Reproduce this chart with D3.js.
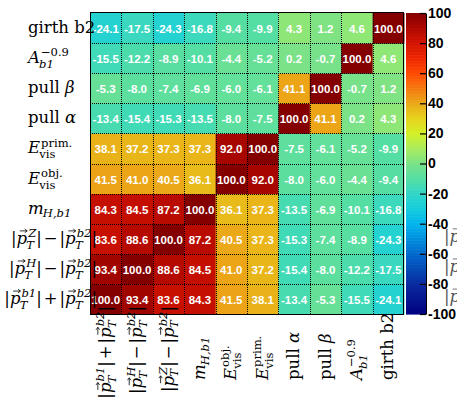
<!DOCTYPE html>
<html><head><meta charset="utf-8">
<script src="https://cdn.jsdelivr.net/npm/d3@7"></script>
<style>
html,body{margin:0;padding:0;background:#fff;}
svg{display:block;}
</style></head><body>
<svg id="chart" width="457" height="398"></svg>
<script>
// ---- label building blocks (math-style tokens) ----
const bar = {t: "|"};
const plus = {t: "+", op: true};
const minus = {t: "\u2212", op: true};
const pT = sup => ({t: "p", i: true, vec: true, sub: {t: "T", i: true}, sup: {t: sup, i: true}});

// Variables, in matrix order: columns left to right, rows bottom to top
const varLabels = [
  [bar, pT("b1"), bar, plus, bar, pT("b2"), bar],
  [bar, pT("H"), bar, minus, bar, pT("b2"), bar],
  [bar, pT("Z"), bar, minus, bar, pT("b2"), bar],
  [{t: "m", i: true, sub: {t: "H,b1", i: true}}],
  [{t: "E", i: true, sup: {t: "obj."}, sub: {t: "vis"}}],
  [{t: "E", i: true, sup: {t: "prim."}, sub: {t: "vis"}}],
  [{t: "pull "}, {t: "\u03b1", i: true}],
  [{t: "pull "}, {t: "\u03b2", i: true}],
  [{t: "A", i: true, sup: {t: "\u22120.9"}, sub: {t: "b1", i: true}}],
  [{t: "girth b2"}]
];

// Correlation coefficients in percent, one row per variable (same order)
const corrPtSum   = [100.0, 93.4, 83.6, 84.3, 41.5, 38.1, -13.4, -5.3, -15.5, -24.1];
const corrPtH     = [93.4, 100.0, 88.6, 84.5, 41.0, 37.2, -15.4, -8.0, -12.2, -17.5];
const corrPtZ     = [83.6, 88.6, 100.0, 87.2, 40.5, 37.3, -15.3, -7.4, -8.9, -24.3];
const corrMass    = [84.3, 84.5, 87.2, 100.0, 36.1, 37.3, -13.5, -6.9, -10.1, -16.8];
const corrEobj    = [41.5, 41.0, 40.5, 36.1, 100.0, 92.0, -8.0, -6.0, -4.4, -9.4];
const corrEprim   = [38.1, 37.2, 37.3, 37.3, 92.0, 100.0, -7.5, -6.1, -5.2, -9.9];
const corrPullA   = [-13.4, -15.4, -15.3, -13.5, -8.0, -7.5, 100.0, 41.1, 0.2, 4.3];
const corrPullB   = [-5.3, -8.0, -7.4, -6.9, -6.0, -6.1, 41.1, 100.0, -0.7, 1.2];
const corrAsym    = [-15.5, -12.2, -8.9, -10.1, -4.4, -5.2, 0.2, -0.7, 100.0, 4.6];
const corrGirth   = [-24.1, -17.5, -24.3, -16.8, -9.4, -9.9, 4.3, 1.2, 4.6, 100.0];
const corrRows = [corrPtSum, corrPtH, corrPtZ, corrMass, corrEobj, corrEprim, corrPullA, corrPullB, corrAsym, corrGirth];

// Colour bar ticks
const colorTicks = [-100, -80, -60, -40, -20, 0, 20, 40, 60, 80, 100];

// ---- palette ----
const color = d3.scaleLinear()
  .domain([-100, -80, -60, -40, -30, -20, -10, 0, 10, 20, 30, 40, 50, 60, 70, 80, 90, 100])
  .range(["#000080", "#0a2aa0", "#0068cc", "#00b4ee", "#12ccdc", "#30d6c8", "#54dea4", "#7ae288",
          "#a8ec60", "#d4f028", "#e6d41c", "#eaaa18", "#f57a10", "#ff4a00", "#ee2800", "#d41400",
          "#b00800", "#840000"])
  .interpolate(d3.interpolateRgb)
  .clamp(true);

const svg = d3.select("#chart");
const n = varLabels.length;
const plot = {left: 90, right: 404, top: 13, bottom: 314};

const x = d3.scaleBand().domain(d3.range(n)).range([plot.left, plot.right]);
const y = d3.scaleBand().domain(d3.range(n)).range([plot.bottom, plot.top]);
const bw = x.bandwidth(), bh = y.bandwidth();

// ---- cells ----
const cells = [];
corrRows.forEach((row, i) => row.forEach((v, j) => cells.push({i, j, v})));

const gCells = svg.append("g");
gCells.selectAll("rect").data(cells).join("rect")
  .attr("x", d => x(d.j)).attr("y", d => y(d.i))
  .attr("width", bw + 0.5).attr("height", bh + 0.5)
  .attr("fill", d => color(d.v));

gCells.selectAll("text").data(cells).join("text")
  .attr("x", d => x(d.j) + bw / 2)
  .attr("y", d => y(d.i) + bh / 2 + 1)
  .attr("text-anchor", "middle")
  .attr("dominant-baseline", "central")
  .attr("font-family", "'Liberation Sans', Arial, sans-serif")
  .attr("font-weight", "bold")
  .attr("font-size", 11.5)
  .attr("fill", "#fff")
  .text(d => d.v.toFixed(1));

// ---- dotted grid between cells ----
const gGrid = svg.append("g")
  .attr("stroke", "#000").attr("stroke-width", 1).attr("stroke-dasharray", "1,1")
  .attr("shape-rendering", "crispEdges");
d3.range(1, n).forEach(k => {
  const xx = Math.round(x(k)) + 0.5;
  gGrid.append("line").attr("x1", xx).attr("x2", xx).attr("y1", plot.top).attr("y2", plot.bottom);
  const yy = Math.round(y(k - 1)) + 0.5;
  gGrid.append("line").attr("x1", plot.left).attr("x2", plot.right).attr("y1", yy).attr("y2", yy);
});

svg.append("rect")
  .attr("x", plot.left + 0.5).attr("y", plot.top - 0.5)
  .attr("width", plot.right - plot.left - 1).attr("height", plot.bottom - plot.top + 0.5)
  .attr("fill", "none").attr("stroke", "#000").attr("stroke-width", 1)
  .attr("shape-rendering", "crispEdges");

// ---- colour bar ----
const cb = {left: 406, right: 426};
const zScale = d3.scaleLinear().domain([-100, 100]).range([plot.bottom, plot.top]);
const slices = d3.range(-100, 100, 1);
svg.append("g").selectAll("rect").data(slices).join("rect")
  .attr("x", cb.left).attr("width", cb.right - cb.left)
  .attr("y", d => zScale(d + 1)).attr("height", d => zScale(d) - zScale(d + 1) + 0.6)
  .attr("fill", d => color(d + 0.5));

const zAxis = svg.append("g")
  .attr("transform", `translate(${cb.right},0)`)
  .call(d3.axisRight(zScale).tickValues(colorTicks).tickSizeInner(-6).tickSizeOuter(0).tickPadding(2)
    .tickFormat(d3.format("d")));
zAxis.select(".domain").attr("stroke", "#000");
zAxis.selectAll(".tick line").attr("stroke", "#000").attr("stroke-width", 1.2);
zAxis.selectAll(".tick text")
  .attr("fill", "#000")
  .attr("font-family", "'Liberation Sans', Arial, sans-serif")
  .attr("font-weight", "bold")
  .attr("font-size", 14)
  .text(d => d < 0 ? "-" + Math.abs(d) : String(d));

// ---- math-style label renderer ----
const FS = 16.5;
const serif = "'DejaVu Serif', 'Liberation Serif', serif";

function drawMath(g, tokens, fs, fill) {
  let cx = 0;
  const ss = fs * 0.7;
  const put = (txt, px, py, size, italic) => {
    const t = g.append("text")
      .attr("x", px).attr("y", py)
      .attr("font-family", serif)
      .attr("font-size", size)
      .attr("font-style", italic ? "italic" : "normal")
      .attr("fill", fill)
      .style("white-space", "pre")
      .text(txt);
    return t.node().getComputedTextLength();
  };
  tokens.forEach(tok => {
    if (tok.op) cx += fs * 0.12;
    const w = put(tok.t, cx, 0, fs, tok.i);
    if (tok.vec) {
      const ax0 = cx + w * 0.3, ax1 = cx + w * 1.0, ay = -fs * 0.78;
      g.append("path")
        .attr("d", `M${ax0},${ay}H${ax1}M${ax1 - 2.4},${ay - 1.8}L${ax1},${ay}L${ax1 - 2.4},${ay + 1.8}`)
        .attr("fill", "none").attr("stroke", fill).attr("stroke-width", 0.8);
    }
    const sx = cx + w;
    let sw = 0;
    if (tok.sup) {
      sw = Math.max(sw, put(tok.sup.t, sx + (tok.i ? 1 : 0.5), -fs * 0.42, ss, tok.sup.i) + (tok.i ? 1 : 0.5));
    }
    if (tok.sub) {
      const dy = tok.sup ? fs * 0.3 : fs * 0.22;
      sw = Math.max(sw, put(tok.sub.t, sx - (tok.i ? 0.8 : 0), dy, ss, tok.sub.i) - (tok.i ? 0.8 : 0));
    }
    cx = sx + sw;
    if (tok.op) cx += fs * 0.12;
  });
  return cx;
}

// Row labels (left side)
const gRows = svg.append("g");
varLabels.forEach((lab, v) => {
  const g = gRows.append("g");
  const w = drawMath(g, lab, FS, "#000");
  const lx = Math.min(28, plot.left + 7 - w);
  g.attr("transform", `translate(${lx},${y(v) + bh / 2 + 5})`);
});

// Column labels (bottom, rotated)
const gCols = svg.append("g");
varLabels.forEach((lab, v) => {
  const g = gCols.append("g");
  const w = drawMath(g, lab, FS, "#000");
  const start = Math.max(380, plot.bottom - 8 + w);
  g.attr("transform", `translate(${x(v) + bw / 2 + 5},${start}) rotate(-90)`);
});

// Clipped row-label fragments at the right edge
const gEdge = svg.append("g");
[0, 1, 2].forEach(v => {
  const g = gEdge.append("g");
  drawMath(g, [bar, {t: "p", i: true, vec: true}], FS, "#555");
  g.attr("transform", `translate(444,${y(v) + bh / 2 + 3})`);
});
</script>
</body></html>
